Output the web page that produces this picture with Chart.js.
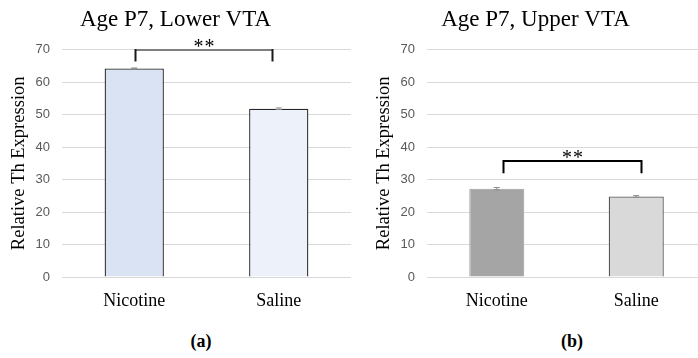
<!DOCTYPE html>
<html>
<head>
<meta charset="utf-8">
<script src="https://cdn.jsdelivr.net/npm/chart.js@4.4.1/dist/chart.umd.min.js"></script>
<style>
    html, body { margin: 0; padding: 0; background: #fff; }
    body { width: 698px; height: 358px; overflow: hidden; position: relative; }
    canvas { position: absolute; top: 0; }
    #graficoLower { left: 0; }
    #graficoUpper { left: 365px; }
    .rotulo {
        position: absolute; top: 331px; width: 60px; text-align: center;
        font: bold 18px "Liberation Serif", serif; color: #000;
    }
</style>
</head>
<body>
<canvas id="graficoLower" width="355" height="320"></canvas>
<canvas id="graficoUpper" width="345" height="320"></canvas>
<div class="rotulo" style="left:171px">(a)</div>
<div class="rotulo" style="left:542px">(b)</div>

<script>
const categorias = ["Nicotine", "Saline"];
const lowerVTA = [64.2, 51.8];
const lowerVTAErro = [0.15, 0.25];
const upperVTA = [27.2, 24.8];
const upperVTAErro = [0.35, 0.25];
const eixoMin = 0;
const eixoMax = 70;
const eixoPasso = 10;

const corGrade = "#d9d9d9";
const corTick = "#595959";

// barras de erro + colchete de significancia
const anotacoes = {
    id: "anotacoes",
    afterDatasetsDraw(chart, args, opts) {
        const ctx = chart.ctx;
        const x = chart.scales.x;
        const y = chart.scales.y;
        const ds = chart.data.datasets[0];

        ctx.save();
        ctx.strokeStyle = "#8c8c8c";
        ctx.lineWidth = 1;
        ds.data.forEach((v, i) => {
            const e = opts.erros[i];
            const px = x.getPixelForValue(i);
            const y1 = y.getPixelForValue(v + e);
            const y2 = y.getPixelForValue(v - e);
            ctx.beginPath();
            ctx.moveTo(px, y1); ctx.lineTo(px, y2);
            ctx.moveTo(px - 3, y1); ctx.lineTo(px + 3, y1);
            ctx.moveTo(px - 3, y2); ctx.lineTo(px + 3, y2);
            ctx.stroke();
        });

        const s = opts.sig;
        const xa = Math.round(x.getPixelForValue(s.de)) + 0.5;
        const xb = Math.round(x.getPixelForValue(s.ate)) + 0.5;
        const yt = Math.round(y.getPixelForValue(s.topo));
        const yb = y.getPixelForValue(s.topo - s.queda);

        ctx.lineWidth = 2;
        ctx.strokeStyle = s.corH;
        ctx.beginPath();
        ctx.moveTo(xa, yt); ctx.lineTo(xb, yt);
        ctx.stroke();
        ctx.strokeStyle = s.corV;
        ctx.beginPath();
        ctx.moveTo(xa, yt - 1); ctx.lineTo(xa, yb);
        ctx.moveTo(xb, yt - 1); ctx.lineTo(xb, yb);
        ctx.stroke();

        ctx.fillStyle = "#000";
        ctx.font = "20px 'Liberation Serif', serif";
        ctx.textAlign = "center";
        ctx.textBaseline = "alphabetic";
        const cx = (xa + xb) / 2;
        ctx.fillText("*", cx - 5.5, yt + 3);
        ctx.fillText("*", cx + 5.5, yt + 3);
        ctx.restore();
    }
};

function criarGrafico(idCanvas, titulo, valores, erros, cores, bordas, larguraBorda, fracao, sig) {
    new Chart(document.getElementById(idCanvas), {
        type: "bar",
        data: {
            labels: categorias,
            datasets: [{
                data: valores,
                backgroundColor: cores,
                borderColor: bordas,
                borderWidth: larguraBorda,
                barPercentage: fracao,
                categoryPercentage: 1
            }]
        },
        options: {
            responsive: false,
            animation: false,
            devicePixelRatio: 1,
            layout: { padding: { left: 0, right: 4, top: 0, bottom: 0 } },
            plugins: {
                legend: { display: false },
                tooltip: { enabled: false },
                title: {
                    display: true,
                    text: titulo,
                    color: "#000",
                    font: { family: "'Liberation Serif', serif", size: 23, weight: "normal" },
                    padding: { top: 6, bottom: 16 }
                },
                anotacoes: { erros: erros, sig: sig }
            },
            scales: {
                x: {
                    grid: { display: false },
                    border: { display: false },
                    ticks: {
                        color: "#000",
                        padding: 5,
                        font: { family: "'Liberation Serif', serif", size: 18 }
                    },
                    afterFit: s => { s.height = 43; }
                },
                y: {
                    min: eixoMin,
                    max: eixoMax,
                    grid: { color: corGrade, drawTicks: false },
                    border: { display: false },
                    ticks: {
                        stepSize: eixoPasso,
                        color: corTick,
                        padding: 12,
                        font: { family: "'Liberation Sans', sans-serif", size: 13 }
                    },
                    title: {
                        display: true,
                        text: "Relative Th Expression",
                        color: "#000",
                        padding: { top: 8, bottom: 0 },
                        font: { family: "'Liberation Serif', serif", size: 18.5 }
                    },
                    afterFit: s => { s.width = 62; }
                }
            }
        },
        plugins: [anotacoes]
    });
}

document.addEventListener("DOMContentLoaded", function () {

    criarGrafico(
        "graficoLower",
        "Age P7, Lower VTA",
        lowerVTA,
        lowerVTAErro,
        ["#dae3f3", "#edf1f9"],
        ["#262626", "#262626"],
        1.3,
        0.41,
        { de: 0.005, ate: 0.953, topo: 69.9, queda: 3.6, corH: "#7f7f7f", corV: "#1a1a1a" }
    );

    criarGrafico(
        "graficoUpper",
        "Age P7, Upper VTA",
        upperVTA,
        upperVTAErro,
        ["#a5a5a5", "#d9d9d9"],
        ["#b0b0b0", "#595959"],
        1.3,
        0.395,
        { de: 0.044, ate: 1.036, topo: 35.6, queda: 3.7, corH: "#000", corV: "#000" }
    );

});
</script>
</body>
</html>
